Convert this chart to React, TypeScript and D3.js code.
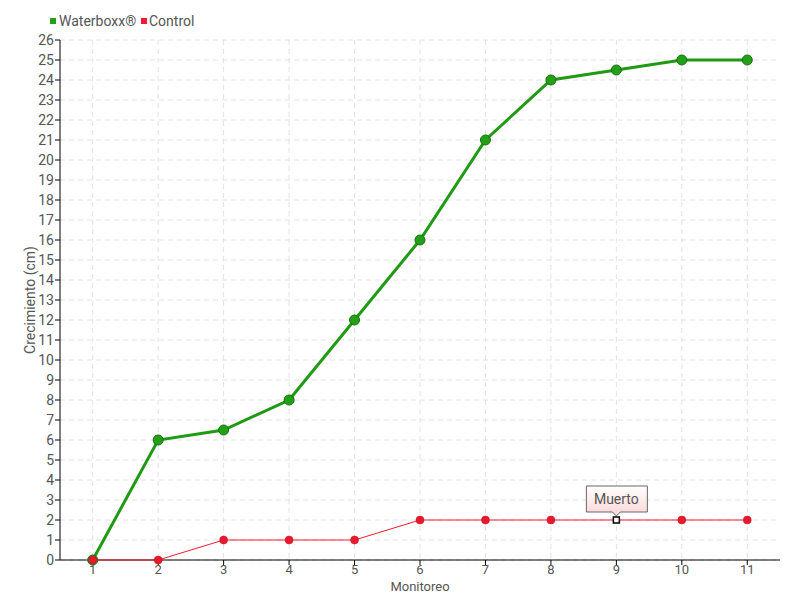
import * as d3 from "d3";
import React from "react";

const months = ["1", "2", "3", "4", "5", "6", "7", "8", "9", "10", "11"];
const waterboxx = [0, 6, 6.5, 8, 12, 16, 21, 24, 24.5, 25, 25];
const control = [0, 0, 1, 1, 1, 2, 2, 2, 2, 2, 2];
const yTicks = d3.range(0, 27);

const W = 800;
const H = 600;
const margin = { top: 40, right: 20, bottom: 40, left: 60 };
const font = "Roboto, 'DejaVu Sans', sans-serif";
const textColor = "#555";

const App = () => {
  const x = d3.scaleBand().domain(months).range([margin.left, W - margin.right]);
  const y = d3.scaleLinear().domain([0, 26]).range([H - margin.top, margin.top]);
  const cx = (m: string) => (x(m) as number) + x.bandwidth() / 2;

  const line = d3
    .line<number>()
    .x((d, i) => cx(months[i]))
    .y((d) => y(d));

  const deadIdx = 8;
  const tipX = cx(months[deadIdx]);
  const tipY = y(control[deadIdx]);

  return (
    <svg width={W} height={H} style={{ position: "absolute", left: 0, top: 0 }} fontFamily={font}>
      <defs>
        <linearGradient id="tipGrad" x1="0" y1="0" x2="0" y2="1">
          <stop offset="0" stopColor="#ffffff" />
          <stop offset="1" stopColor="#fbd5d5" />
        </linearGradient>
      </defs>
      {/* grid */}
      {yTicks.map((t) => (
        <line key={"gy" + t} x1={margin.left} x2={W - margin.right} y1={y(t)} y2={y(t)}
          stroke="#e2e2e2" strokeDasharray="5,4" />
      ))}
      {months.map((m) => (
        <line key={"gx" + m} x1={cx(m)} x2={cx(m)} y1={margin.top} y2={H - margin.bottom}
          stroke="#e2e2e2" strokeDasharray="5,4" />
      ))}
      {/* axes */}
      <line x1={margin.left} x2={W - margin.right} y1={y(0)} y2={y(0)} stroke="#000" />
      <line x1={margin.left} x2={margin.left} y1={y(26)} y2={y(0)} stroke="#000" />
      {yTicks.map((t) => (
        <g key={"ty" + t}>
          <line x1={margin.left - 5} x2={margin.left} y1={y(t)} y2={y(t)} stroke="#000" />
          <text x={margin.left - 6} y={y(t)} dy="0.35em" textAnchor="end" fontSize={14}
            fill={textColor}>{t}</text>
        </g>
      ))}
      {months.map((m) => (
        <g key={"tx" + m}>
          <line x1={cx(m)} x2={cx(m)} y1={y(0)} y2={y(0) + 5} stroke="#000" />
          <text x={cx(m)} y={y(0) + 14} textAnchor="middle" fontSize={13} fill={textColor}>{m}</text>
        </g>
      ))}
      <text x={(margin.left + W - margin.right) / 2} y={591} textAnchor="middle" fontSize={13} fill={textColor}>Monitoreo</text>
      <text transform={`translate(35,${(y(0) + y(26)) / 2}) rotate(-90)`} textAnchor="middle" fontSize={14}
        fill={textColor}>Crecimiento (cm)</text>

      {/* Waterboxx */}
      <path d={line(waterboxx) ?? ""} fill="none" stroke="#1f9a12" strokeWidth={3} />
      {waterboxx.map((v, i) => (
        <circle key={"w" + i} cx={cx(months[i])} cy={y(v)} r={5} fill="#23a017" stroke="#16700e" strokeWidth={1} />
      ))}

      {/* Control */}
      <path d={line(control) ?? ""} fill="none" stroke="#ee1c2e" strokeWidth={1} />
      {control.map((v, i) =>
        i === deadIdx ? (
          <rect key={"c" + i} x={cx(months[i]) - 3} y={y(v) - 3} width={6} height={6} fill="#fff" stroke="#000" strokeWidth={1.5} />
        ) : (
          <circle key={"c" + i} cx={cx(months[i])} cy={y(v)} r={4} fill="#e8192c" stroke="#c4101f" strokeWidth={0.5} />
        )
      )}

      {/* tooltip */}
      <path
        d={`M${tipX - 30},${tipY - 34} H${tipX + 31} V${tipY - 8} H${tipX + 4} L${tipX},${tipY - 4} L${tipX - 4},${tipY - 8} H${tipX - 30} Z`}
        fill="url(#tipGrad)" stroke="#666" strokeWidth={1} />
      <text x={tipX} y={tipY - 16} textAnchor="middle" fontSize={14} fill={textColor}>Muerto</text>

      {/* legend */}
      <rect x={50} y={18} width={6} height={6} fill="#23a017" />
      <text x={59} y={26} fontSize={14} fill={textColor}>Waterboxx®</text>
      <rect x={141} y={18} width={6} height={6} fill="#ee1c2e" />
      <text x={149} y={26} fontSize={14} fill={textColor}>Control</text>
    </svg>
  );
};

export default App;
